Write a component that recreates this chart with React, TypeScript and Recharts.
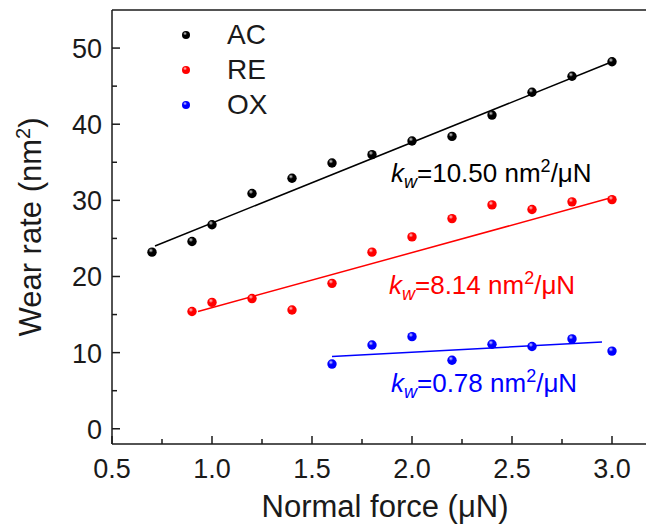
import React from "react";
import { ReferenceLine, Scatter, ScatterChart, XAxis, YAxis } from "recharts";

const FONT = '"Liberation Sans", Arial, sans-serif';
const INK = "#1a1a1a";

// measured points (normal force µN, wear rate nm²)
const acForce = [0.7, 0.9, 1.0, 1.2, 1.4, 1.6, 1.8, 2.0, 2.2, 2.4, 2.6, 2.8, 3.0];
const acRate = [23.2, 24.6, 26.8, 30.9, 32.9, 34.9, 36.0, 37.8, 38.4, 41.2, 44.2, 46.3, 48.2];
const reForce = [0.9, 1.0, 1.2, 1.4, 1.6, 1.8, 2.0, 2.2, 2.4, 2.6, 2.8, 3.0];
const reRate = [15.4, 16.6, 17.1, 15.6, 19.1, 23.2, 25.2, 27.6, 29.4, 28.8, 29.8, 30.1];
const oxForce = [1.6, 1.8, 2.0, 2.2, 2.4, 2.6, 2.8, 3.0];
const oxRate = [8.5, 11.0, 12.1, 9.0, 11.1, 10.8, 11.8, 10.2];

// linear fit end points
const acFitForce = [0.715, 3.0];
const acFitRate = [24.0, 48.2];
const reFitForce = [0.93, 2.99];
const reFitRate = [15.4, 30.3];
const oxFitForce = [1.6, 2.95];
const oxFitRate = [9.5, 11.4];

const xTicks = [0.5, 0.75, 1.0, 1.25, 1.5, 1.75, 2.0, 2.25, 2.5, 2.75, 3.0];
const yTicks = [0, 5, 10, 15, 20, 25, 30, 35, 40, 45, 50];

const zip = (xs: number[], ys: number[]) => xs.map((x, i) => ({ x, y: ys[i] }));

const SERIES = [
  { name: "AC", color: "#000000", light: "#d8d8d8", data: zip(acForce, acRate), fit: zip(acFitForce, acFitRate), k: "10.50" },
  { name: "RE", color: "#ff0000", light: "#ffd0d0", data: zip(reForce, reRate), fit: zip(reFitForce, reFitRate), k: "8.14" },
  { name: "OX", color: "#0000ff", light: "#d0d0ff", data: zip(oxForce, oxRate), fit: zip(oxFitForce, oxFitRate), k: "0.78" },
];

function Ball({ cx, cy, r, color, light, id }: any) {
  return (
    <g>
      <defs>
        <radialGradient id={id} cx="38%" cy="32%" r="70%">
          <stop offset="0%" stopColor={light} />
          <stop offset="35%" stopColor={color} />
          <stop offset="100%" stopColor={color} />
        </radialGradient>
      </defs>
      <circle cx={cx} cy={cy} r={r} fill={`url(#${id})`} />
    </g>
  );
}

function XTick({ x, y, payload }: any) {
  const v = payload.value;
  const major = Math.abs(v * 2 - Math.round(v * 2)) < 1e-6;
  return (
    <g>
      <line x1={x} x2={x} y1={y} y2={y - (major ? 8 : 5)} stroke={INK} strokeWidth={1.5} />
      {major ? (
        <text x={x} y={y + 34} textAnchor="middle" fontSize={27} fill={INK} fontFamily={FONT}>
          {v.toFixed(1)}
        </text>
      ) : null}
    </g>
  );
}

function YTick({ x, y, payload }: any) {
  const v = payload.value;
  const major = v % 10 === 0;
  return (
    <g>
      <line x1={x} x2={x + (major ? 8 : 5)} y1={y} y2={y} stroke={INK} strokeWidth={1.5} />
      {major ? (
        <text x={x - 10} y={y + 10} textAnchor="end" fontSize={27} fill={INK} fontFamily={FONT}>
          {v}
        </text>
      ) : null}
    </g>
  );
}

function Kw({ left, top, color, k }: { left: number; top: number; color: string; k: string }) {
  return (
    <div style={{ position: "absolute", left, top, color, fontSize: 26, lineHeight: "28px", whiteSpace: "nowrap" }}>
      <i>k</i>
      <span style={{ fontSize: 18, position: "relative", top: 6 }}>
        <i>w</i>
      </span>
      =<span>{k}</span> nm<span style={{ fontSize: 18, position: "relative", top: -10 }}>2</span>/μN
    </div>
  );
}

export default function App() {
  return (
    <div style={{ position: "absolute", left: 0, top: 0, width: 646, height: 528, overflow: "hidden", background: "#fff", fontFamily: FONT }}>
      <ScatterChart width={652} height={528} margin={{ top: 10, right: 0, left: 0, bottom: 0 }}>
        <XAxis
          type="number"
          dataKey="x"
          domain={[0.5, 3.2]}
          ticks={xTicks}
          interval={0}
          height={84}
          tickSize={0}
          tickMargin={0}
          tickLine={false}
          tick={<XTick />}
          axisLine={{ stroke: INK, strokeWidth: 1.5 }}
        />
        <YAxis
          type="number"
          dataKey="y"
          domain={[-2, 55]}
          ticks={yTicks}
          interval={0}
          width={112}
          tickSize={0}
          tickMargin={0}
          tickLine={false}
          tick={<YTick />}
          axisLine={{ stroke: INK, strokeWidth: 1.5 }}
        />
        <ReferenceLine y={55} stroke={INK} strokeWidth={1.5} />
        {SERIES.map((s) => (
          <Scatter
            key={s.name + "-fit"}
            data={s.fit}
            line={{ stroke: s.color, strokeWidth: 1.5 }}
            shape={() => <g />}
            isAnimationActive={false}
          />
        ))}
        {SERIES.map((s) => (
          <Scatter
            key={s.name}
            name={s.name}
            data={s.data}
            isAnimationActive={false}
            shape={(p: any) => <Ball cx={p.cx} cy={p.cy} r={4.7} color={s.color} light={s.light} id={"ball-" + s.name} />}
          />
        ))}
      </ScatterChart>

      {/* legend */}
      {SERIES.map((s, i) => (
        <div key={s.name} style={{ position: "absolute", left: 178, top: 21 + i * 35, height: 28, display: "flex", alignItems: "center" }}>
          <svg width={16} height={16} style={{ display: "block" }}>
            <Ball cx={8} cy={8} r={4} color={s.color} light={s.light} id={"lg-" + s.name} />
          </svg>
          <span style={{ marginLeft: 33, fontSize: 28, color: INK, lineHeight: "28px" }}>{s.name}</span>
        </div>
      ))}

      <Kw left={391} top={159} color="#000000" k="10.50" />
      <Kw left={389} top={271} color="#ff0000" k="8.14" />
      <Kw left={391} top={369} color="#0000ff" k="0.78" />

      {/* axis titles */}
      <div style={{ position: "absolute", left: 0, width: 770, top: 490, textAlign: "center", fontSize: 31, color: INK, lineHeight: "34px" }}>
        Normal force (μN)
      </div>
      <div
        style={{
          position: "absolute",
          left: 32,
          top: 227,
          transform: "translate(-50%, -50%) rotate(-90deg)",
          fontSize: 31,
          color: INK,
          whiteSpace: "nowrap",
          lineHeight: "34px",
        }}
      >
        Wear rate (nm<span style={{ fontSize: 20, position: "relative", top: -11 }}>2</span>)
      </div>
    </div>
  );
}
